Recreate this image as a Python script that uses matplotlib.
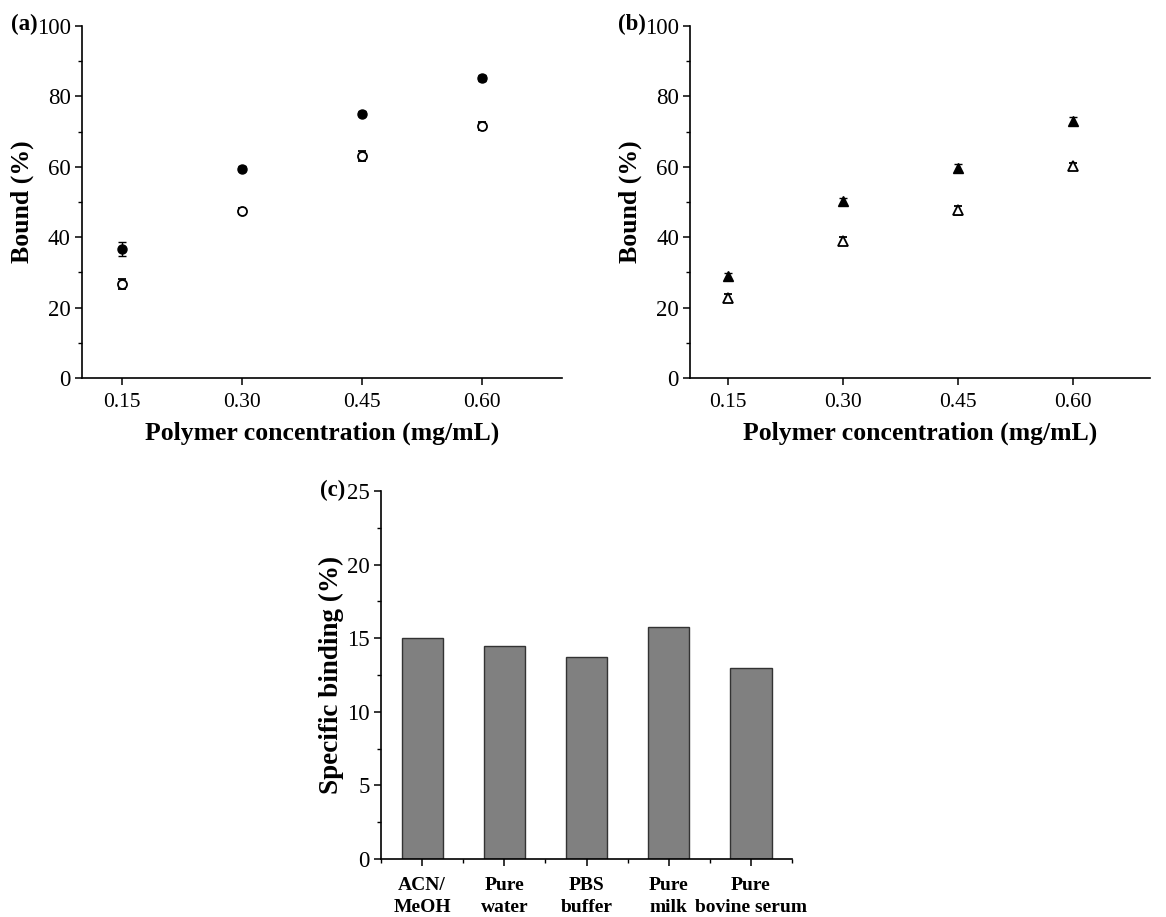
import matplotlib
matplotlib.use("Agg")
import matplotlib.pyplot as plt
from matplotlib.ticker import MultipleLocator

plt.rcParams['font.family'] = ['Liberation Serif', 'DejaVu Serif']

# data
conc = [0.15, 0.30, 0.45, 0.60]
a_filled = [36.6, 59.5, 75.1, 85.2]
a_filled_err = [2.0, 0.8, 0.8, 0.8]
a_open = [26.7, 47.5, 63.0, 71.6]
a_open_err = [1.5, 0.8, 1.4, 1.2]

b_filled = [28.9, 50.2, 59.6, 73.0]
b_filled_err = [1.0, 1.0, 1.2, 1.2]
b_open = [22.8, 39.0, 47.6, 60.2]
b_open_err = [1.2, 1.2, 1.2, 1.0]

media = ['ACN/\nMeOH', 'Pure\nwater', 'PBS\nbuffer', 'Pure\nmilk', 'Pure\nbovine serum']
binding = [15.0, 14.5, 13.7, 15.75, 13.0]

fig = plt.figure(figsize=(11.66, 9.17), dpi=100)
W, H = 1166.0, 917.0

xtick_fs = 15.5
ytick_fs = 16.5
label_fs = 18.5


def style_axes(ax):
    ax.spines['top'].set_visible(False)
    ax.spines['right'].set_visible(False)
    ax.spines['left'].set_linewidth(1.2)
    ax.spines['bottom'].set_linewidth(1.2)
    ax.tick_params(axis='both', which='major', direction='out', length=5, width=1.1, pad=6)
    ax.tick_params(axis='x', which='major', labelsize=xtick_fs)
    ax.tick_params(axis='y', which='major', labelsize=ytick_fs, pad=3)
    ax.tick_params(axis='both', which='minor', direction='out', length=3, width=1.0)


def scatter_panel(ax, filled, ferr, opn, oerr, marker):
    ax.errorbar(conc, filled, yerr=ferr, fmt=marker, color='black', mfc='black',
                ms=6.5, capsize=3, elinewidth=1, capthick=1)
    ax.errorbar(conc, opn, yerr=oerr, fmt=marker, color='black', mfc='white',
                ms=6.5, mew=1.3, capsize=3, elinewidth=1, capthick=1)
    ax.set_xlim(0.1, 0.7)
    ax.set_ylim(0, 100)
    ax.set_xticks(conc)
    ax.set_xticklabels(['0.15', '0.30', '0.45', '0.60'])
    ax.yaxis.set_major_locator(MultipleLocator(20))
    ax.yaxis.set_minor_locator(MultipleLocator(10))
    ax.set_xlabel('Polymer concentration (mg/mL)', fontsize=label_fs, fontweight='bold', labelpad=7)
    ax.set_ylabel('Bound (%)', fontsize=label_fs, fontweight='bold', labelpad=2)
    style_axes(ax)


ax1 = fig.add_axes([0.0703, 0.5878, 0.4117, 0.3838])
scatter_panel(ax1, a_filled, a_filled_err, a_open, a_open_err, 'o')
fig.text(38 / W, 1 - 24 / H, '(a)', fontsize=16.5, fontweight='bold', ha='right', va='center')

ax2 = fig.add_axes([0.5918, 0.5878, 0.3945, 0.3838])
scatter_panel(ax2, b_filled, b_filled_err, b_open, b_open_err, '^')
fig.text(646 / W, 1 - 24 / H, '(b)', fontsize=16.5, fontweight='bold', ha='right', va='center')

ax3 = fig.add_axes([0.3268, 0.0632, 0.3525, 0.4014])
pos = list(range(len(media)))
ax3.bar(pos, binding, width=0.5, color='#808080', edgecolor='#333333', linewidth=1)
ax3.set_xlim(-0.5, 4.5)
ax3.set_ylim(0, 25)
ax3.set_xticks(pos)
ax3.set_xticklabels(media, fontsize=14, fontweight='bold', linespacing=1.4)
ax3.xaxis.set_minor_locator(MultipleLocator(0.5))
ax3.yaxis.set_major_locator(MultipleLocator(5))
ax3.yaxis.set_minor_locator(MultipleLocator(2.5))
ax3.set_ylabel('Specific binding (%)', fontsize=label_fs + 1, fontweight='bold', labelpad=2)
style_axes(ax3)
ax3.tick_params(axis='x', which='major', labelsize=14, pad=8)
fig.text(345 / W, 1 - 490 / H, '(c)', fontsize=16.5, fontweight='bold', ha='right', va='center')

fig.savefig('out.png', dpi=100, facecolor='white')
